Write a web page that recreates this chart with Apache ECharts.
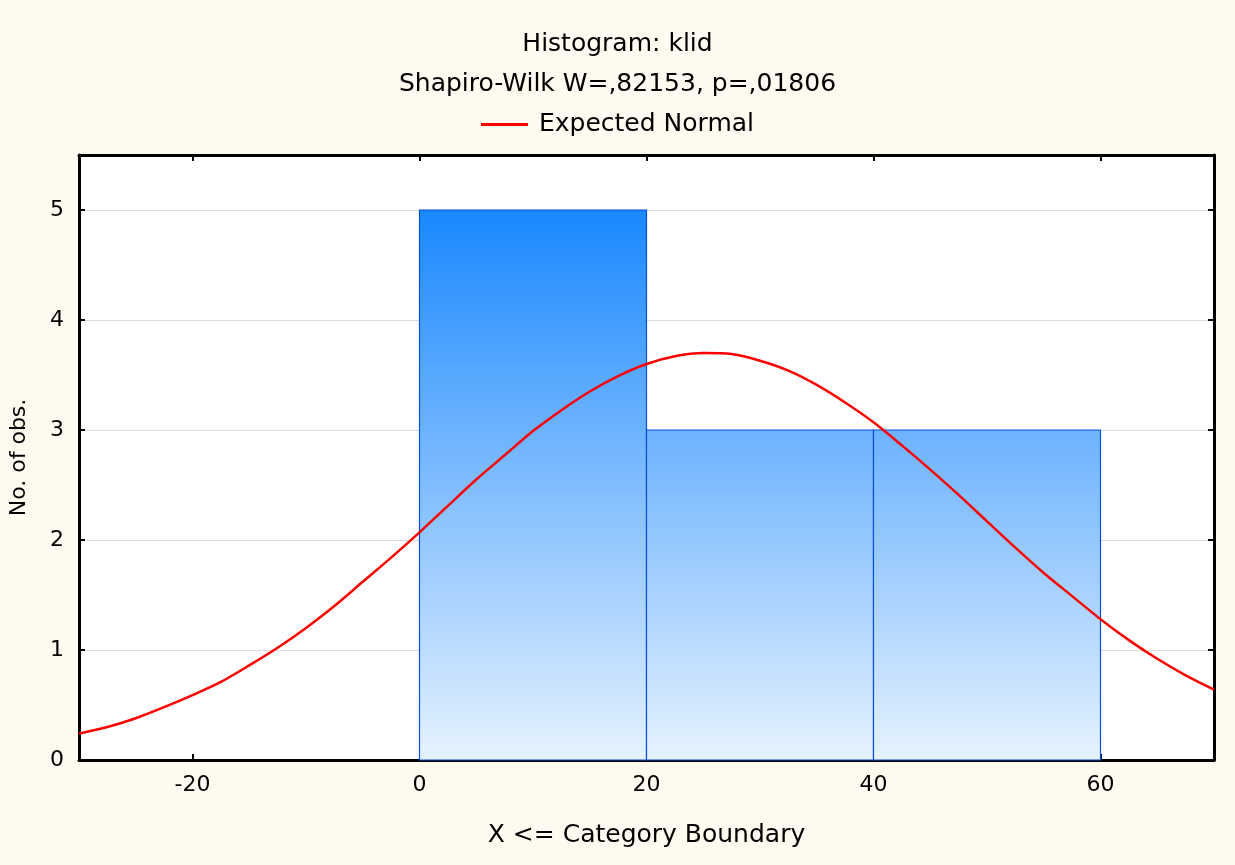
<!DOCTYPE html>
<html>
<head>
<meta charset="utf-8">
<script src="https://cdn.jsdelivr.net/npm/echarts@6/dist/echarts.min.js"></script>
<style>
  html, body { margin: 0; padding: 0; background: #fefaef; }
  #chart { width: 1235px; height: 865px; }
</style>
</head>
<body>
<div id="chart"></div>
<script>
// histogram bins: [from, to, count]
const binStart = [0, 20, 40]
const binEnd = [20, 40, 60]
const binCount = [5, 3, 3]

// expected normal curve
const curveX = [-30, -27.5, -25, -22.5, -20, -17.5, -15, -12.5, -10, -7.5, -5, -2.5, 0, 2.5, 5, 7.5, 10, 12.5, 15, 17.5,
  20, 22.5, 25, 27.5, 30, 32.5, 35, 37.5, 40, 42.5, 45, 47.5, 50, 52.5, 55, 57.5, 60, 62.5, 65, 67.5, 70]
const curveY = [0.24, 0.3, 0.38, 0.48, 0.59, 0.71, 0.86, 1.02, 1.2, 1.4, 1.62, 1.84, 2.07, 2.31, 2.55, 2.77, 2.99, 3.18, 3.35, 3.49,
  3.6, 3.67, 3.7, 3.69, 3.63, 3.54, 3.41, 3.25, 3.07, 2.86, 2.64, 2.41, 2.17, 1.93, 1.7, 1.49, 1.28, 1.09, 0.92, 0.77, 0.64]

const xTicks = [-20, 0, 20, 40, 60]
const yTicks = [0, 1, 2, 3, 4, 5]

const font = 'DejaVu Sans, sans-serif'
const chart = echarts.init(document.getElementById('chart'))

const bins = binStart.map((s, i) => [s, binEnd[i], binCount[i]])
const curve = curveX.map((x, i) => [x, curveY[i]])
const maxCount = Math.max(...binCount)

const tickStyle = { show: true, inside: true, length: 6, lineStyle: { color: '#000', width: 2 } }
const lineStyle = { show: true, onZero: false, lineStyle: { color: '#000', width: 3 } }

const option = {
  backgroundColor: '#fefaef',
  animation: false,
  title: [
    { text: 'Histogram: klid', left: 'center', top: 27,
      textStyle: { fontFamily: font, fontSize: 25, fontWeight: 'normal', color: '#000' } },
    { text: 'Shapiro-Wilk W=,82153, p=,01806', left: 'center', top: 67,
      textStyle: { fontFamily: font, fontSize: 25, fontWeight: 'normal', color: '#000' } }
  ],
  legend: {
    top: 107,
    left: 'center',
    itemWidth: 47,
    itemHeight: 3,
    itemGap: 10,
    icon: 'rect',
    textStyle: { fontFamily: font, fontSize: 25, color: '#000', padding: [0, 0, 0, 6] },
    data: ['Expected Normal']
  },
  grid: { left: 79, right: 21, top: 155, bottom: 105, show: true, backgroundColor: '#ffffff', borderWidth: 0 },
  xAxis: [
    {
      type: 'value', min: -30, max: 70,
      name: 'X <= Category Boundary', nameLocation: 'middle', nameGap: 63,
      nameTextStyle: { fontFamily: font, fontSize: 25, color: '#000' },
      axisLine: lineStyle,
      axisTick: Object.assign({ customValues: xTicks }, tickStyle),
      axisLabel: { customValues: xTicks, margin: 14, fontFamily: font, fontSize: 22, color: '#000' },
      splitLine: { show: false }
    },
    {
      type: 'value', min: -30, max: 70, position: 'top',
      axisLine: lineStyle,
      axisTick: Object.assign({ customValues: xTicks }, tickStyle),
      axisLabel: { show: false },
      splitLine: { show: false }
    }
  ],
  yAxis: [
    {
      type: 'value', min: 0, max: 5.5,
      name: 'No. of obs.', nameLocation: 'middle', nameGap: 49, nameRotate: 90,
      nameTextStyle: { fontFamily: font, fontSize: 22, color: '#000' },
      axisLine: lineStyle,
      axisTick: Object.assign({ customValues: yTicks }, tickStyle),
      axisLabel: { customValues: yTicks, margin: 15, fontFamily: font, fontSize: 22, color: '#000' },
      splitLine: { show: true, lineStyle: { color: '#dcdcdc', width: 1 } }
    },
    {
      type: 'value', min: 0, max: 5.5, position: 'right',
      axisLine: lineStyle,
      axisTick: Object.assign({ customValues: yTicks }, tickStyle),
      axisLabel: { show: false },
      splitLine: { show: false }
    }
  ],
  series: [
    {
      type: 'custom',
      name: 'bins',
      data: bins,
      encode: { x: [0, 1], y: 2 },
      z: 2,
      renderItem: function (params, api) {
        const p0 = api.coord([api.value(0), api.value(2)])
        const p1 = api.coord([api.value(1), 0])
        const gTop = api.coord([0, maxCount])[1]
        const gBot = api.coord([0, 0])[1]
        return {
          type: 'rect',
          shape: { x: p0[0], y: p0[1], width: p1[0] - p0[0], height: p1[1] - p0[1] },
          style: {
            fill: new echarts.graphic.LinearGradient(0, gTop, 0, gBot, [
              { offset: 0, color: '#1a88ff' },
              { offset: 1, color: '#e6f2fe' }
            ], true),
            stroke: '#0a4fd8',
            lineWidth: 1.2
          }
        }
      }
    },
    {
      type: 'line',
      name: 'Expected Normal',
      data: curve,
      smooth: 0.3,
      symbol: 'none',
      z: 5,
      itemStyle: { color: '#ff0000' },
      lineStyle: { color: '#ff0000', width: 2.5 }
    }
  ]
}
chart.setOption(option)
</script>
</body>
</html>
